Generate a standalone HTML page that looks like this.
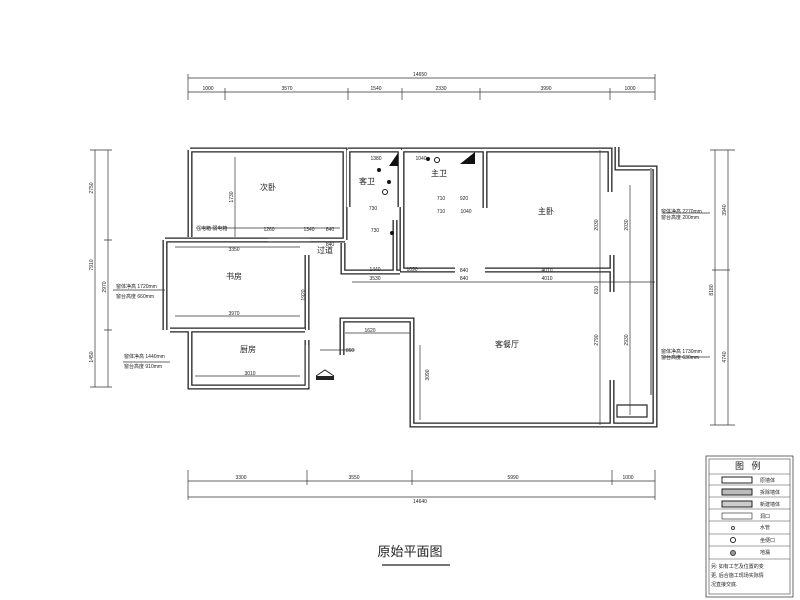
<!DOCTYPE html>
<html><head><meta charset="utf-8"><style>
body{margin:0;background:#fff}
svg{display:block}
text{font-family:"Liberation Sans","Noto Sans CJK SC",sans-serif;fill:#222}
.w{fill:none;stroke:#222;stroke-width:5;stroke-linejoin:miter}
.wi{fill:none;stroke:#fff;stroke-width:2.4;stroke-linejoin:miter}
.d{stroke:#333;stroke-width:0.7;fill:none}
.s{font-size:5px}
.r{font-size:8px}
</style></head><body>
<svg width="800" height="600" viewBox="0 0 800 600">
<defs>
<g id="walls">
<path d="M190,150 H345 V240 M190,150 V237 M268,240 H345"/>
<path d="M165,240 H310 M165,240 V330 M170,330 H305 M307,255 V330 M190,330 V387 H307 V345"/>
<path d="M348,150 V207 M348,150 H400 V207 M343,243 V272 H400 M395,220 V272"/>
<path d="M402,150 H485 V205 M402,150 V270 H455 M485,205 V208 M485,270 H612"/>
<path d="M485,150 H610 V192 M617,147 V168 H655 V425 H412 V320 H342 V355 M612,255 V292 M612,380 V425"/>
<path d="M307,340 V387"/>
</g>
</defs>
<g class="w"><use href="#walls"/></g>
<g class="wi"><use href="#walls"/></g>
<!-- window / balcony -->
<line x1="651" y1="168" x2="651" y2="385" stroke="#999" stroke-width="2"/>
<line x1="651" y1="395" x2="651" y2="385" stroke="#999" stroke-width="2"/>
<rect x="617" y="405" width="30" height="12" fill="none" stroke="#222" stroke-width="1.2"/>
<!-- top dims -->
<g class="d">
<line x1="188" y1="78" x2="655" y2="78"/><line x1="188" y1="92" x2="655" y2="92"/>
<path d="M188,74V100 M225,88V100 M348,88V100 M402,88V100 M480,88V100 M610,88V100 M655,74V100"/>
<line x1="188" y1="481" x2="655" y2="481"/><line x1="188" y1="497" x2="655" y2="497"/>
<path d="M188,470V500 M307,470V485 M412,470V485 M612,470V485 M655,470V500"/>
<line x1="95" y1="150" x2="95" y2="387"/><line x1="108" y1="150" x2="108" y2="387"/>
<path d="M90,150H112 M104,240H112 M104,330H112 M90,387H112"/>
<line x1="728" y1="150" x2="728" y2="425"/><line x1="715" y1="150" x2="715" y2="425"/>
<path d="M710,150H735 M712,270H730 M710,425H735"/>
<line x1="600" y1="150" x2="600" y2="425"/><line x1="630" y1="185" x2="630" y2="415"/>
<line x1="352" y1="282" x2="655" y2="282"/><line x1="220" y1="278" x2="640" y2="278" stroke-width="0"/>
<line x1="175" y1="247" x2="300" y2="247"/><line x1="175" y1="316" x2="300" y2="316"/>
<line x1="195" y1="376" x2="300" y2="376"/><line x1="202" y1="228" x2="340" y2="228"/>
<line x1="235" y1="157" x2="235" y2="237"/><line x1="420" y1="345" x2="420" y2="420"/>
<line x1="345" y1="333" x2="410" y2="333"/><line x1="320" y1="350" x2="355" y2="350"/>
<line x1="663" y1="213" x2="710" y2="213"/><line x1="663" y1="357" x2="710" y2="357"/>
<line x1="113" y1="290" x2="165" y2="290"/><line x1="123" y1="362" x2="170" y2="362"/>
</g>
<g class="s" text-anchor="middle">
<text x="420" y="76">14650</text>
<text x="208" y="90">1000</text><text x="287" y="90">3570</text><text x="376" y="90">1540</text><text x="441" y="90">2330</text><text x="546" y="90">3990</text><text x="630" y="90">1000</text>
<text x="241" y="479">3300</text><text x="354" y="479">3550</text><text x="513" y="479">5990</text><text x="628" y="479">1000</text>
<text x="420" y="503">14640</text>
<text x="234" y="251">3350</text><text x="234" y="315">3970</text><text x="250" y="375">3010</text>
<text x="375" y="280">3530</text><text x="547" y="272">4010</text><text x="547" y="280">4010</text><text x="464" y="272">840</text><text x="464" y="280">840</text>
<text x="412" y="271">1090</text><text x="375" y="271">1440</text><text x="370" y="332">1620</text><text x="350" y="352">860</text>
<text x="269" y="231">1260</text><text x="309" y="231">1340</text><text x="330" y="231">840</text><text x="330" y="246">840</text>
<text x="376" y="160">1380</text><text x="373" y="210">730</text><text x="375" y="232">730</text>
<text x="421" y="160">1040</text><text x="441" y="200">710</text><text x="464" y="200">920</text><text x="441" y="213">710</text><text x="466" y="213">1040</text>
</g>
<g class="s" text-anchor="middle">
<text transform="translate(93,188) rotate(-90)">2750</text>
<text transform="translate(93,265) rotate(-90)">7910</text>
<text transform="translate(93,357) rotate(-90)">1450</text>
<text transform="translate(106,287) rotate(-90)">2970</text>
<text transform="translate(726,210) rotate(-90)">3940</text>
<text transform="translate(726,357) rotate(-90)">4740</text>
<text transform="translate(713,290) rotate(-90)">8180</text>
<text transform="translate(598,290) rotate(-90)">810</text>
<text transform="translate(598,340) rotate(-90)">2790</text>
<text transform="translate(598,225) rotate(-90)">2030</text>
<text transform="translate(628,225) rotate(-90)">2030</text>
<text transform="translate(628,340) rotate(-90)">2930</text>
<text transform="translate(233,197) rotate(-90)">1730</text>
<text transform="translate(305,295) rotate(-90)">1920</text>
<text transform="translate(429,375) rotate(-90)">3090</text>
</g>
<g class="s">
<text x="661" y="213">窗体净高 2270mm</text><text x="661" y="219">窗台高度 200mm</text>
<text x="661" y="353">窗体净高 1730mm</text><text x="661" y="359">窗台高度 630mm</text>
<text x="116" y="288">窗体净高 1720mm</text><text x="116" y="298">窗台高度 660mm</text>
<text x="124" y="358">窗体净高 1440mm</text><text x="124" y="368">窗台高度 910mm</text>
<text x="196" y="230">强电箱 弱电箱</text>
</g>
<g class="r" text-anchor="middle">
<text x="268" y="190">次卧</text><text x="234" y="279">书房</text><text x="248" y="352">厨房</text>
<text x="325" y="253">过道</text><text x="367" y="184">客卫</text><text x="439" y="176">主卫</text>
<text x="546" y="214">主卧</text><text x="507" y="347">客餐厅</text>
</g>
<circle cx="379" cy="170" r="2" fill="#111"/><circle cx="389" cy="182" r="2" fill="#111"/><circle cx="392" cy="233" r="2" fill="#111"/><circle cx="428" cy="159" r="2" fill="#111"/>
<circle cx="385" cy="192" r="2.5" fill="none" stroke="#111"/><circle cx="437" cy="160" r="2.5" fill="none" stroke="#111"/>
<path d="M460,164 L475,152 V164Z M389,166 L398,153 V166Z" fill="#111"/>
<rect x="316" y="376" width="18" height="4" fill="#222"/><path d="M316,376 L325,370 L334,376" fill="none" stroke="#222"/>
<!-- title -->
<text x="410" y="556" text-anchor="middle" font-size="13">原始平面图</text>
<line x1="382" y1="565" x2="450" y2="565" stroke="#222" stroke-width="1.2"/>
<!-- legend -->
<g font-size="5">
<rect x="706" y="456" width="87" height="141" fill="none" stroke="#444" stroke-width="0.8"/>
<rect x="709" y="459" width="81" height="135" fill="none" stroke="#444" stroke-width="0.6"/>
<text x="735" y="469" font-size="9">图 &#160; 例</text>
<path d="M709,474H790 M709,485H790 M709,497H790 M709,509H790 M709,521H790 M709,534H790 M709,546H790 M709,559H790" stroke="#444" stroke-width="0.6"/>
<rect x="722" y="477" width="30" height="6" fill="none" stroke="#222"/><text x="760" y="482">原墙体</text>
<rect x="722" y="489" width="30" height="6" fill="#bbb" stroke="#222"/><text x="760" y="494">拆除墙体</text>
<rect x="722" y="501" width="30" height="6" fill="#ccc" stroke="#222"/><text x="760" y="506">新建墙体</text>
<rect x="722" y="513" width="30" height="6" fill="none" stroke="#222" stroke-width="0.6"/><text x="760" y="518">洞口</text>
<circle cx="733" cy="528" r="1.5" fill="none" stroke="#444"/><text x="760" y="529">水管</text>
<circle cx="733" cy="540" r="2.5" fill="none" stroke="#222"/><text x="760" y="542">坐便口</text>
<circle cx="733" cy="553" r="2.5" fill="#999" stroke="#444"/><text x="760" y="554">地漏</text>
<text x="711" y="568">另: 如有工艺及位置的变</text><text x="711" y="577">更, 后合施工现场实际情</text><text x="711" y="586">况直接交底.</text>
</g>
</svg>
</body></html>
